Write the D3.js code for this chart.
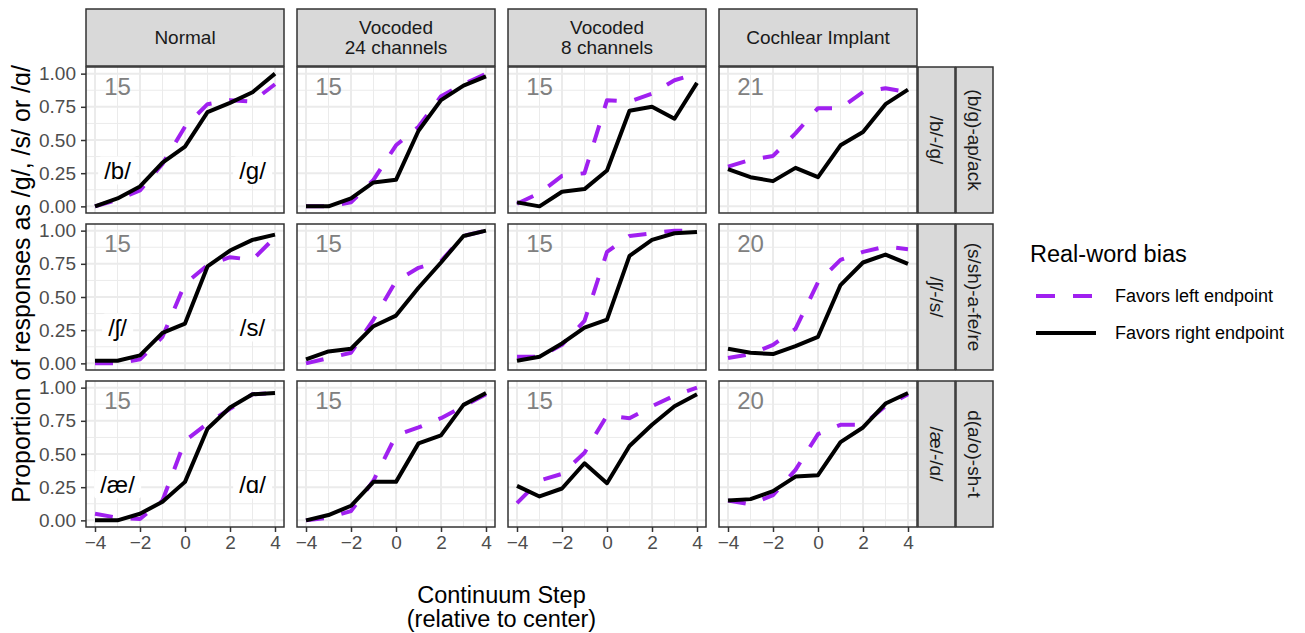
<!DOCTYPE html>
<html>
<head>
<meta charset="utf-8">
<script src="https://cdn.jsdelivr.net/npm/d3@7"></script>
<style>
  body { margin: 0; background: #fff; }
  svg { font-family: 'Liberation Sans', Arial, sans-serif; }
</style>
</head>
<body>
<div class="facet-chart"></div>
<script>
// continuum steps and facet labels
const steps = [-4, -3, -2, -1, 0, 1, 2, 3, 4];
const conditions = [['Normal'], ['Vocoded', '24 channels'], ['Vocoded', '8 channels'], ['Cochlear Implant']];
const contrasts = ['/b/-/g/', '/ʃ/-/s/', '/æ/-/ɑ/'];
const words = ['(b/g)-ap/ack', '(s/sh)-a-fe/re', 'd(a/o)-sh-t'];
const endpoints = [['/b/', '/g/'], ['/ʃ/', '/s/'], ['/æ/', '/ɑ/']];
const listeners = [[15, 15, 15, 21], [15, 15, 15, 20], [15, 15, 15, 20]];
const yTicks = [0, 0.25, 0.5, 0.75, 1];
const xTicks = [-4, -2, 0, 2, 4];
const legendLabels = ['Favors left endpoint', 'Favors right endpoint'];

// proportions, one array per condition (Normal, 24ch, 8ch, CI)
const bgLeft = [
  [0.00, 0.05, 0.12, 0.32, 0.60, 0.77, 0.80, 0.79, 0.92],
  [0.00, 0.00, 0.03, 0.20, 0.46, 0.60, 0.83, 0.92, 1.00],
  [0.02, 0.10, 0.23, 0.25, 0.80, 0.79, 0.85, 0.95, 1.00],
  [0.30, 0.35, 0.38, 0.55, 0.74, 0.74, 0.86, 0.89, 0.86]
];
const bgRight = [
  [0.00, 0.06, 0.15, 0.33, 0.45, 0.71, 0.78, 0.86, 1.00],
  [0.00, 0.00, 0.06, 0.18, 0.20, 0.57, 0.80, 0.91, 0.98],
  [0.03, 0.00, 0.11, 0.13, 0.27, 0.72, 0.75, 0.66, 0.93],
  [0.28, 0.22, 0.19, 0.29, 0.22, 0.46, 0.56, 0.77, 0.88]
];
const ssLeft = [
  [0.00, 0.00, 0.03, 0.20, 0.60, 0.74, 0.80, 0.78, 0.95],
  [0.00, 0.04, 0.08, 0.33, 0.62, 0.72, 0.77, 0.96, 1.00],
  [0.05, 0.05, 0.14, 0.32, 0.84, 0.96, 0.98, 1.00, 1.00],
  [0.04, 0.07, 0.14, 0.26, 0.61, 0.78, 0.84, 0.88, 0.86]
];
const ssRight = [
  [0.02, 0.02, 0.06, 0.23, 0.30, 0.73, 0.85, 0.93, 0.97],
  [0.03, 0.09, 0.11, 0.28, 0.36, 0.57, 0.76, 0.96, 1.00],
  [0.02, 0.05, 0.15, 0.27, 0.33, 0.81, 0.93, 0.98, 0.99],
  [0.11, 0.08, 0.07, 0.13, 0.20, 0.59, 0.76, 0.82, 0.75]
];
const aaLeft = [
  [0.05, 0.02, 0.01, 0.15, 0.60, 0.73, 0.84, 0.95, 0.96],
  [0.00, 0.02, 0.07, 0.30, 0.64, 0.70, 0.77, 0.86, 0.95],
  [0.13, 0.30, 0.35, 0.51, 0.79, 0.77, 0.86, 0.94, 1.00],
  [0.15, 0.12, 0.19, 0.38, 0.65, 0.72, 0.72, 0.86, 0.95]
];
const aaRight = [
  [0.00, 0.00, 0.05, 0.14, 0.29, 0.69, 0.85, 0.95, 0.96],
  [0.00, 0.04, 0.11, 0.29, 0.29, 0.58, 0.64, 0.87, 0.96],
  [0.26, 0.18, 0.24, 0.43, 0.28, 0.56, 0.72, 0.86, 0.95],
  [0.15, 0.16, 0.22, 0.33, 0.34, 0.59, 0.70, 0.88, 0.96]
];

const leftRows = [bgLeft, ssLeft, aaLeft];
const rightRows = [bgRight, ssRight, aaRight];

const width = 1305, height = 633;
const panelW = 198, panelH = 146;
const colX = [86, 297, 508, 719];
const rowY = [67, 224, 381];
const purple = '#a020f0';
const fontStack = "'Liberation Sans', Arial, sans-serif";

const svg = d3.select('.facet-chart')
  .append('svg')
  .attr('width', width)
  .attr('height', height)
  .attr('viewBox', `0 0 ${width} ${height}`);

svg.append('rect').attr('width', width).attr('height', height).attr('fill', '#fff');

const x = d3.scaleLinear().domain([-4.4, 4.4]).range([0, panelW]);
const y = d3.scaleLinear().domain([-0.05, 1.05]).range([panelH, 0]);

const line = d3.line()
  .x((d, i) => x(steps[i]))
  .y(d => y(d))
  .curve(d3.curveLinear);

const minorX = [-3, -1, 1, 3];
const minorY = [0.125, 0.375, 0.625, 0.875];

rowY.forEach((py, r) => {
  colX.forEach((px, c) => {
    const g = svg.append('g').attr('transform', `translate(${px},${py})`);

    g.append('rect')
      .attr('width', panelW).attr('height', panelH)
      .attr('fill', '#fff');

    // grid
    g.selectAll('.minor-x').data(minorX).enter().append('line')
      .attr('x1', d => x(d)).attr('x2', d => x(d))
      .attr('y1', 0).attr('y2', panelH)
      .attr('stroke', '#ebebeb').attr('stroke-width', 1);
    g.selectAll('.minor-y').data(minorY).enter().append('line')
      .attr('y1', d => y(d)).attr('y2', d => y(d))
      .attr('x1', 0).attr('x2', panelW)
      .attr('stroke', '#ebebeb').attr('stroke-width', 1);
    g.selectAll('.major-x').data(xTicks).enter().append('line')
      .attr('x1', d => x(d)).attr('x2', d => x(d))
      .attr('y1', 0).attr('y2', panelH)
      .attr('stroke', '#ebebeb').attr('stroke-width', 2);
    g.selectAll('.major-y').data(yTicks).enter().append('line')
      .attr('y1', d => y(d)).attr('y2', d => y(d))
      .attr('x1', 0).attr('x2', panelW)
      .attr('stroke', '#ebebeb').attr('stroke-width', 2);

    // listener count
    g.append('text')
      .attr('x', x(-3)).attr('y', y(0.9))
      .attr('text-anchor', 'middle')
      .attr('dominant-baseline', 'central')
      .attr('font-size', 24)
      .attr('fill', '#808080')
      .text(listeners[r][c]);

    // endpoint labels, only in first column
    if (c === 0) {
      endpoints[r].forEach((lab, k) => {
        const lx = x(k === 0 ? -3 : 3), ly = y(0.27);
        const t = g.append('text')
          .attr('x', lx).attr('y', ly)
          .attr('text-anchor', 'middle')
          .attr('dominant-baseline', 'central')
          .attr('font-size', 24)
          .attr('fill', '#000')
          .text(lab);
        const bb = t.node().getBBox();
        g.insert('rect', () => t.node())
          .attr('x', bb.x - 6).attr('y', ly - 14)
          .attr('width', bb.width + 12).attr('height', 28)
          .attr('rx', 3)
          .attr('fill', '#fff');
      });
    }

    // series: left first, right on top
    g.append('path')
      .datum(leftRows[r][c])
      .attr('d', line)
      .attr('fill', 'none')
      .attr('stroke', purple)
      .attr('stroke-width', 4)
      .attr('stroke-dasharray', '18,18')
      .attr('stroke-linejoin', 'round');
    g.append('path')
      .datum(rightRows[r][c])
      .attr('d', line)
      .attr('fill', 'none')
      .attr('stroke', '#000')
      .attr('stroke-width', 4)
      .attr('stroke-linejoin', 'round');

    g.append('rect')
      .attr('width', panelW).attr('height', panelH)
      .attr('fill', 'none')
      .attr('stroke', '#333').attr('stroke-width', 1.5);

    // y axis on first column
    if (c === 0) {
      const ya = g.append('g')
        .call(d3.axisLeft(y).tickValues(yTicks).tickFormat(d3.format('.2f')).tickSize(5).tickPadding(5));
      ya.select('.domain').remove();
      ya.selectAll('line').attr('stroke', '#333').attr('stroke-width', 1.5);
      ya.selectAll('text')
        .attr('font-family', fontStack)
        .attr('font-size', 19).attr('fill', '#4d4d4d');
    }
    // x axis on last row
    if (r === rowY.length - 1) {
      const xa = g.append('g')
        .attr('transform', `translate(0,${panelH})`)
        .call(d3.axisBottom(x).tickValues(xTicks).tickSize(5).tickPadding(4));
      xa.select('.domain').remove();
      xa.selectAll('line').attr('stroke', '#333').attr('stroke-width', 1.5);
      xa.selectAll('text')
        .attr('font-family', fontStack)
        .attr('font-size', 19).attr('fill', '#4d4d4d');
    }
  });
});

// top strips
const stripTop = 9, stripH = 57;
colX.forEach((px, c) => {
  svg.append('rect')
    .attr('x', px).attr('y', stripTop)
    .attr('width', panelW).attr('height', stripH)
    .attr('fill', '#d9d9d9').attr('stroke', '#333').attr('stroke-width', 1.5);
  const lines = conditions[c];
  lines.forEach((t, k) => {
    svg.append('text')
      .attr('x', px + panelW / 2)
      .attr('y', stripTop + stripH / 2 + (k - (lines.length - 1) / 2) * 20)
      .attr('text-anchor', 'middle')
      .attr('dominant-baseline', 'central')
      .attr('font-size', 19)
      .attr('fill', '#1a1a1a')
      .text(t);
  });
});

// right strips
const stripW = 37;
const stripCols = [{ x0: 918, labels: contrasts }, { x0: 956, labels: words }];
rowY.forEach((py, r) => {
  stripCols.forEach(s => {
    svg.append('rect')
      .attr('x', s.x0).attr('y', py)
      .attr('width', stripW).attr('height', panelH)
      .attr('fill', '#d9d9d9').attr('stroke', '#333').attr('stroke-width', 1.5);
    svg.append('text')
      .attr('transform', `translate(${s.x0 + stripW / 2},${py + panelH / 2}) rotate(90)`)
      .attr('text-anchor', 'middle')
      .attr('dominant-baseline', 'central')
      .attr('font-size', 19)
      .attr('fill', '#1a1a1a')
      .text(s.labels[r]);
  });
});

// axis titles
const xMid = (colX[0] + colX[3] + panelW) / 2;
svg.append('text')
  .attr('x', xMid)
  .attr('y', 603)
  .attr('text-anchor', 'middle')
  .attr('font-size', 23.5)
  .attr('fill', '#000')
  .selectAll('tspan')
  .data(['Continuum Step', '(relative to center)'])
  .enter().append('tspan')
  .attr('x', xMid)
  .attr('dy', (d, i) => i === 0 ? 0 : 24)
  .text(d => d);

svg.append('text')
  .attr('transform', 'translate(30,284) rotate(-90)')
  .attr('text-anchor', 'middle')
  .attr('font-size', 25)
  .attr('fill', '#000')
  .text('Proportion of responses as /g/, /s/ or /ɑ/');

// legend
const legend = svg.append('g').attr('transform', 'translate(1030,0)');
legend.append('text')
  .attr('x', 0).attr('y', 262)
  .attr('font-size', 23.5)
  .attr('fill', '#000')
  .text('Real-word bias');

const keyY = [296, 333];
legendLabels.forEach((lab, i) => {
  legend.append('line')
    .attr('x1', 6).attr('x2', 66)
    .attr('y1', keyY[i]).attr('y2', keyY[i])
    .attr('stroke', i === 0 ? purple : '#000')
    .attr('stroke-width', 4)
    .attr('stroke-dasharray', i === 0 ? '19,18' : null);
  legend.append('text')
    .attr('x', 85).attr('y', keyY[i])
    .attr('dominant-baseline', 'central')
    .attr('font-size', 18)
    .attr('fill', '#000')
    .text(lab);
});
</script>
</body>
</html>
